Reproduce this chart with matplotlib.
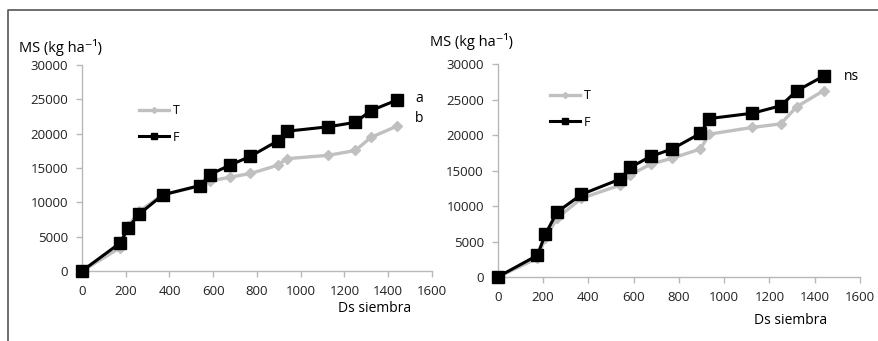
import matplotlib.pyplot as plt
from matplotlib.lines import Line2D

plt.rcParams['font.family'] = ['Open Sans', 'DejaVu Sans']

# Days since sowing (same dates for both sites)
ds = [0, 175, 210, 262, 370, 540, 585, 675, 770, 895, 935, 1125, 1250, 1320, 1440]

# Left panel
left_T = [0, 3400, 6500, 8700, 11100, 12400, 13100, 13650, 14200, 15400, 16350, 16850, 17550, 19450, 21100]
left_F = [0, 4100, 6250, 8300, 11100, 12450, 14050, 15400, 16700, 18950, 20350, 21000, 21650, 23350, 24900]

# Right panel
right_T = [0, 2650, 5450, 8300, 11100, 12950, 14400, 15900, 16750, 18050, 20150, 21100, 21600, 24000, 26300]
right_F = [0, 3050, 6000, 9150, 11650, 13800, 15450, 17000, 18050, 20250, 22350, 23100, 24150, 26250, 28350]

xticks = [0, 200, 400, 600, 800, 1000, 1200, 1400, 1600]
yticks = [0, 5000, 10000, 15000, 20000, 25000, 30000]

W, H = 879, 341
fig = plt.figure(figsize=(W / 100, H / 100), dpi=100)


def px(x, y):
    return x / W, 1 - y / H


def panel(rect, T, F, legend_xy):
    ax = fig.add_axes(rect)
    ax.plot(ds, T, color='#c0c0c0', lw=2.4, marker='D', ms=5.5, label='T', zorder=2)
    ax.plot(ds, F, color='black', lw=2.2, marker='s', ms=9, label='F', zorder=3)
    ax.set_xlim(0, 1600)
    ax.set_ylim(0, 30000)
    ax.set_xticks(xticks)
    ax.set_yticks(yticks)
    for s in ['top', 'right']:
        ax.spines[s].set_visible(False)
    for s in ['left', 'bottom']:
        ax.spines[s].set_color('#b8b8b8')
        ax.spines[s].set_linewidth(1)
    ax.tick_params(axis='both', colors='#b8b8b8', labelcolor='#222222',
                   labelsize=9.5, length=4, width=1, direction='out')
    ax.tick_params(axis='y', pad=6)
    ax.tick_params(axis='x', pad=6)
    for line in ax.lines:
        line.set_clip_on(False)
    ax.legend(loc='upper left', bbox_to_anchor=px(*legend_xy), bbox_transform=fig.transFigure,
              frameon=False, fontsize=9, handlelength=2.4, handletextpad=0.3,
              labelspacing=1.1, markerscale=0.55, borderpad=0, borderaxespad=0)
    return ax


panel([82 / W, 70 / H, 350 / W, 206 / H], left_T, left_F, (139, 104))
panel([497.7 / W, 64 / H, 362.3 / W, 212.7 / H], right_T, right_F, (550, 89))

# Axis titles and significance letters
ylab = 'MS (kg ha⁻¹)'
fig.text(*px(19, 48), ylab, fontsize=10.5, va='center', ha='left')
fig.text(*px(430, 41), ylab, fontsize=10.5, va='center', ha='left')
fig.text(*px(375, 308), 'Ds siembra', fontsize=10, va='center', ha='center')
fig.text(*px(791, 320), 'Ds siembra', fontsize=10, va='center', ha='center')
fig.text(*px(415, 98), 'a', fontsize=10, va='center', ha='left')
fig.text(*px(415, 118), 'b', fontsize=10, va='center', ha='left')
fig.text(*px(844, 76), 'ns', fontsize=10, va='center', ha='left')

# Outer frame (left and top edges)
fig.add_artist(Line2D([8 / W, 8 / W, 1], [0, 1 - 10 / H, 1 - 10 / H],
                      transform=fig.transFigure, color='#555555', lw=1.2))

fig.savefig('out.png', dpi=100)
